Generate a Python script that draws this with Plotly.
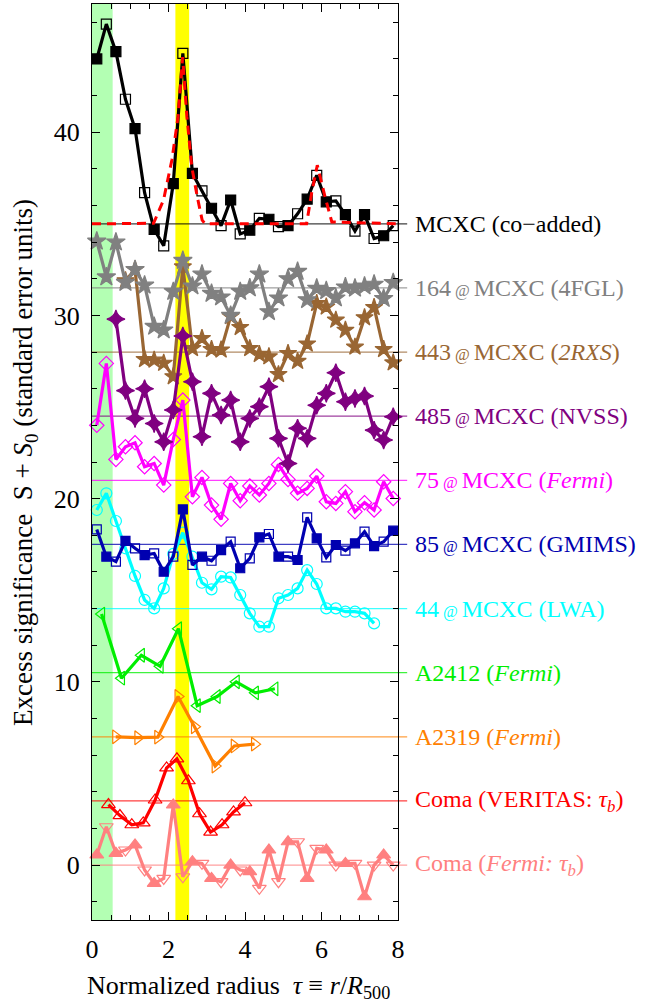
import plotly.graph_objects as go

# Radial bin centres (in units of R500)
tau = [0.125, 0.375, 0.625, 0.875, 1.125, 1.375, 1.625, 1.875,
       2.125, 2.375, 2.625, 2.875, 3.125, 3.375, 3.625, 3.875,
       4.125, 4.375, 4.625, 4.875, 5.125, 5.375, 5.625, 5.875,
       6.125, 6.375, 6.625, 6.875, 7.125, 7.375, 7.625, 7.875]

# Profiles, already shifted by their offsets S0
coadd = [44.0, 45.9, 44.4, 41.8, 40.2, 36.7, 34.7, 33.8, 37.2, 44.3, 37.75, 36.8,
         35.85, 34.9, 36.3, 34.45, 34.65, 35.3, 35.25, 34.85, 34.9, 35.55, 36.35, 37.65,
         36.2, 36.25, 35.5, 34.6, 35.5, 34.2, 34.35, 34.9]
fgl = [34.05, 32.1, 34.0, 31.8, 32.5, 31.65, 29.4, 29.2, 31.3, 33.0, 31.6, 32.25,
       31.2, 31.0, 30.0, 31.3, 31.5, 32.25, 30.2, 30.95, 32.0, 32.4, 30.85, 31.48,
       31.35, 30.95, 31.55, 31.48, 31.6, 31.7, 30.92, 31.79]
rxs = [31.9, 32.5, 27.6, 27.57, 27.4, 26.66, 32.66, 28.2, 28.75, 28.15, 28.12, 29.95,
       29.35, 28.2, 27.88, 27.75, 26.78, 27.93, 27.5, 28.45, 30.66, 30.47, 29.75, 29.2,
       28.28, 29.88, 30.44, 28.15, 27.42]
nvss = [29.8, 25.9, 24.38, 26.0, 24.1, 23.1, 24.84, 28.88, 26.38, 23.38, 25.75, 24.56,
        25.38, 23.1, 24.38, 25.02, 26.11, 23.29, 21.92, 23.84, 23.29, 25.1, 25.75, 26.87,
        25.29, 25.47, 25.6, 23.74, 23.2, 24.47]
fermi75 = [24.0, 27.38, 22.14, 22.83, 23.05, 21.74, 21.92, 20.74, 23.23, 25.38, 20.1, 21.16,
           19.65, 18.87, 20.83, 19.89, 20.69, 20.2, 20.83, 21.87, 21.05, 20.29, 20.56, 21.23,
           19.83, 19.74, 20.38, 19.29, 19.78, 19.38, 20.92, 20.01]
gmims = [18.32, 16.83, 16.56, 17.7, 17.29, 16.92, 17.01, 16.01, 16.83, 19.41, 16.38, 16.83,
         16.61, 17.19, 17.65, 16.2, 16.74, 17.89, 18.07, 16.83, 16.83, 16.65, 18.98, 17.83,
         16.79, 17.47, 17.16, 17.56, 18.2, 17.41, 17.65, 18.25]
lwa = [19.38, 20.29, 18.78, 17.29, 15.78, 14.47, 14.01, 15.1, 16.98, 18.14, 16.83, 15.41,
       15.05, 15.74, 15.7, 14.74, 13.74, 13.01, 13.01, 14.56, 14.74, 15.1, 16.1, 15.34,
       14.01, 14.01, 13.83, 13.83, 13.74, 13.19]
coma_fermi = [0.55, 2.09, 0.64, 0.82, 1.1, -0.27, -1.0, -0.73, 3.28, -0.64, 0.18, 0.09,
              -0.73, -0.91, 0.0, -0.27, -0.36, -1.27, 0.82, -0.91, 1.27, 1.27, -0.73, 0.91,
              0.82, 0.0, 0.09, 0.09, -1.73, 0.0, 0.55, 0.0]

# Single clusters
a2412_tau = [0.25, 0.77, 1.29, 1.78, 2.26, 2.75, 3.27, 3.77, 4.27, 4.78]
a2412 = [13.7, 10.2, 11.45, 10.85, 12.9, 8.7, 9.2, 10.0, 9.4, 9.62]
a2319_tau = [0.62, 1.2, 1.72, 2.25, 2.68, 3.22, 3.72, 4.25]
a2319 = [7.0, 6.95, 6.98, 9.2, 7.55, 5.4, 6.5, 6.6]
veritas_tau = [0.43, 0.73, 1.04, 1.34, 1.65, 1.95, 2.22, 2.52, 2.81, 3.10, 3.40, 3.70, 4.0]
veritas = [3.3, 2.7, 2.2, 2.3, 3.55, 5.3, 5.8, 4.6, 2.8, 1.8, 2.2, 2.9, 3.4]

# Shock model for the co-added profile
model_tau = [0.0, 1.61, 1.87, 2.09, 2.25, 2.37, 2.48, 2.61, 2.75, 2.88, 2.96,
             5.61, 5.74, 5.89, 6.09, 6.27, 8.0]
model = [35.0, 35.03, 36.3, 38.5, 40.85, 44.1, 40.85, 38.1, 36.5, 35.2, 35.0,
         35.0, 36.66, 38.2, 36.5, 35.1, 35.0]

# Offsets S0 and labels
offsets = [35.0, 31.5, 28.0, 24.5, 21.0, 17.5, 14.0, 10.5, 7.0, 3.5, 0.0]
AT = '<span style="font-size:16px"> @ </span>'
labels = ["MCXC (co\u2212added)",
          "164" + AT + "MCXC (4FGL)",
          "443" + AT + "MCXC (<i>2RXS</i>)",
          "485" + AT + "MCXC (NVSS)",
          "75" + AT + "MCXC (<i>Fermi</i>)",
          "85" + AT + "MCXC (GMIMS)",
          "44" + AT + "MCXC (LWA)",
          "A2412 (<i>Fermi</i>)",
          "A2319 (<i>Fermi</i>)",
          "Coma (VERITAS: <i>\u03c4<sub>b</sub></i>)",
          "Coma (<i>Fermi: \u03c4<sub>b</sub></i>)"]
colors = ["#000000", "#808080", "#996633", "#800080", "#ff00ff", "#0000b0",
          "#00ffff", "#00ee00", "#ff8000", "#ff0000", "#ff8080"]

# Shaded radial ranges
inner_band = [0.0, 0.54]
shock_band = [2.18, 2.54]

YMIN, YMAX = -3, 47
FONT = "Liberation Serif"

fig = go.Figure()


def alt(a, b, n, start=0):
    return [a if (i + start) % 2 == 0 else b for i in range(n)]


def add(x, y, color, symbols, size=10, width=3.2, mline=1.2):
    fig.add_trace(go.Scatter(
        x=x, y=y, mode="lines+markers",
        line=dict(color=color, width=width),
        marker=dict(symbol=symbols, size=size, color=color,
                    line=dict(color=color, width=mline)),
        showlegend=False, cliponaxis=False))


add(tau, coma_fermi, colors[10], alt("triangle-up", "triangle-down-open", 32), size=12)
add(veritas_tau, veritas, colors[9], "triangle-up-open", size=12)
add(a2319_tau, a2319, colors[8], "triangle-right-open", size=12)
add(a2412_tau, a2412, colors[7], "triangle-left-open", size=12)
add(tau[:30], lwa, colors[6], "circle-open", size=11)
add(tau, gmims, colors[5], alt("square-open", "square", 32), size=9)
add(tau, fermi75, colors[4], "diamond-open", size=11)
add(tau[3:], rxs, colors[2], "star", size=13)
add(tau[2:], nvss, colors[3], "star-diamond", size=13)
add(tau, fgl, colors[1], "star", size=14)
add(tau, coadd, colors[0], alt("square", "square-open", 32), size=10)

fig.add_trace(go.Scatter(x=model_tau, y=model, mode="lines",
                         line=dict(color="#ff0000", width=3, dash="9px,6px"),
                         showlegend=False))

shapes = [
    dict(type="rect", xref="x", yref="paper", x0=inner_band[0], x1=inner_band[1],
         y0=0, y1=1, fillcolor="#b3ffb3", line_width=0, layer="below"),
    dict(type="rect", xref="x", yref="paper", x0=shock_band[0], x1=shock_band[1],
         y0=0, y1=1, fillcolor="#ffff00", line_width=0, layer="below"),
]
annotations = []
for off, lab, col in zip(offsets, labels, colors):
    shapes.append(dict(type="line", xref="paper", yref="y", x0=0, x1=1.03,
                       y0=off, y1=off, line=dict(color=col, width=1.3),
                       opacity=0.75, layer="below"))
    annotations.append(dict(xref="paper", yref="y", x=1.048, y=off, text=lab,
                            showarrow=False, xanchor="left", yanchor="middle",
                            font=dict(family=FONT, size=24, color=col)))

annotations.append(dict(
    xref="paper", yref="paper", x=-0.219, y=0.5, textangle=-90,
    text="Excess significance  S + <i>S</i><sub>0</sub> (standard error units)",
    showarrow=False, xanchor="center", yanchor="middle",
    font=dict(family=FONT, size=27, color="black")))
annotations.append(dict(
    xref="paper", yref="paper", x=0.48, y=-0.073,
    text="Normalized radius  <i>\u03c4</i> \u2261 <i>r</i>/<i>R</i><sub>500</sub>",
    showarrow=False, xanchor="center", yanchor="middle",
    font=dict(family=FONT, size=26, color="black")))

axis_common = dict(showgrid=False, zeroline=False, showline=True, linecolor="black",
                   linewidth=1, mirror="ticks", ticks="inside", tickcolor="black",
                   tickwidth=1, ticklen=8,
                   tickfont=dict(family=FONT, size=26, color="black"))

fig.update_layout(
    width=664, height=1007,
    margin=dict(l=92, r=266, t=4, b=87),
    paper_bgcolor="white", plot_bgcolor="rgba(0,0,0,0)",
    shapes=shapes, annotations=annotations,
    xaxis=dict(range=[0, 8], tickvals=[0, 2, 4, 6, 8], ticklabelstandoff=6,
               minor=dict(dtick=0.5, ticks="inside", ticklen=5, tickcolor="black"),
               **axis_common),
    yaxis=dict(range=[YMIN, YMAX], tickvals=[0, 10, 20, 30, 40], ticklabelstandoff=6,
               minor=dict(dtick=2, ticks="inside", ticklen=5, tickcolor="black"),
               **axis_common),
)

fig.write_html("out.html")
